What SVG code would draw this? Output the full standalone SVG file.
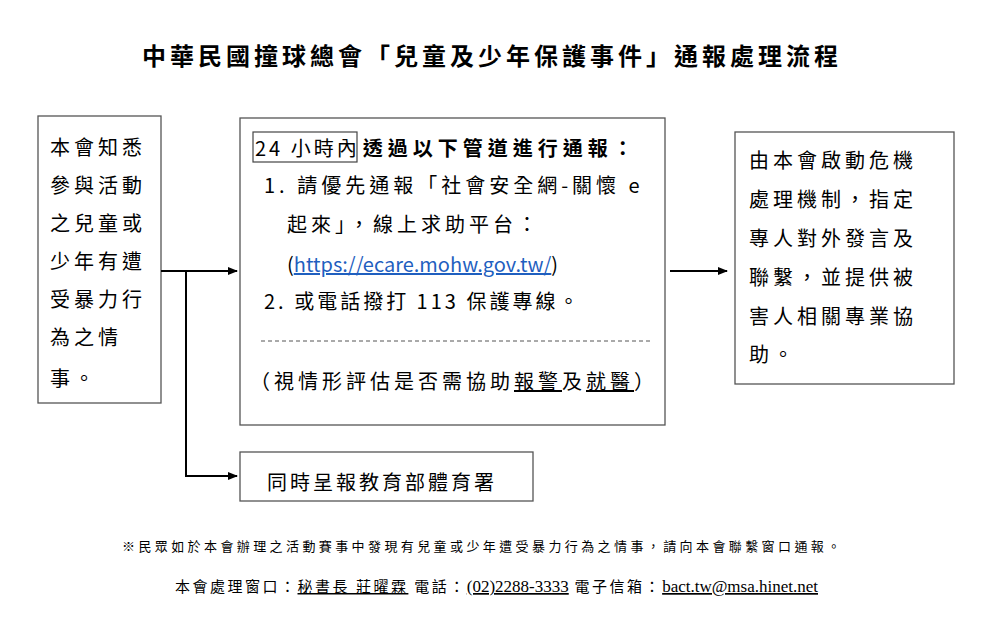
<svg xmlns="http://www.w3.org/2000/svg" width="993" height="629" viewBox="0 0 993 629">
<style>
.t{font-family:"Liberation Serif","Noto Sans CJK TC",serif;fill:#000}
.c{font-family:"Noto Sans CJK TC",sans-serif;fill:#000}
.box{fill:#fff;stroke:#555;stroke-width:1.3}
.ln{stroke:#000;stroke-width:2;fill:none}
</style>
<defs><marker id="ah" markerWidth="10" markerHeight="8" refX="9" refY="4" orient="auto" markerUnits="userSpaceOnUse"><path d="M0,0 L10,4 L0,8 Z" fill="#000"/></marker></defs>
<rect width="993" height="629" fill="#fff"/>
<text class="c" x="492" y="65" font-size="24" font-weight="bold" text-anchor="middle" letter-spacing="4">中華民國撞球總會「兒童及少年保護事件」通報處理流程</text>
<g id="left"><rect class="box" x="38" y="116" width="123" height="287"/>
<text class="c" font-size="20" letter-spacing="4"><tspan x="50" y="155">本會知悉</tspan><tspan x="50" y="193">參與活動</tspan><tspan x="50" y="231">之兒童或</tspan><tspan x="50" y="269">少年有遭</tspan><tspan x="50" y="307">受暴力行</tspan><tspan x="50" y="345">為之情</tspan><tspan x="50" y="386">事。</tspan></text></g>
<g id="middle"><rect class="box" x="240" y="118" width="425" height="307"/>
<rect x="253" y="132" width="104" height="30" fill="none" stroke="#444" stroke-width="1.2"/>
<text class="c" font-size="20" x="255" y="156" letter-spacing="3">24 小時內<tspan font-weight="bold" letter-spacing="5" dx="3">透過以下管道進行通報：</tspan></text>
<text class="c" font-size="20" x="264" y="193" letter-spacing="4">1. 請優先通報「社會安全網-關懷 e</text>
<text class="c" font-size="20" x="287" y="232" letter-spacing="4">起來」，線上求助平台：</text>
<text class="c" font-size="20" x="287" y="272">(<tspan fill="#1f5fbf" text-decoration="underline">https://ecare.mohw.gov.tw/</tspan>)</text>
<text class="c" font-size="20" x="264" y="309" letter-spacing="3">2. 或電話撥打 113 保護專線。</text>
<line x1="261" y1="341" x2="652" y2="341" stroke="#555" stroke-dasharray="4,3"/>
<text class="c" font-size="20" x="250" y="389" letter-spacing="4">（視情形評估是否需協助<tspan text-decoration="underline">報警</tspan>及<tspan text-decoration="underline">就醫</tspan>）</text></g>
<g id="right"><rect class="box" x="735" y="132" width="219" height="252"/>
<text class="c" font-size="20" letter-spacing="4"><tspan x="749" y="168">由本會啟動危機</tspan><tspan x="749" y="207">處理機制，指定</tspan><tspan x="749" y="246">專人對外發言及</tspan><tspan x="749" y="285">聯繫，並提供被</tspan><tspan x="749" y="324">害人相關專業協</tspan><tspan x="749" y="362">助。</tspan></text></g>
<g id="bottom"><rect class="box" x="240" y="452" width="293" height="49"/>
<text class="c" font-size="20" x="267" y="490" letter-spacing="3">同時呈報教育部體育署</text></g>
<g id="connectors">
<line class="ln" x1="161" y1="271" x2="237" y2="271" marker-end="url(#ah)"/>
<polyline class="ln" points="186,271 186,476 237,476" marker-end="url(#ah)"/>
<line class="ln" x1="670" y1="271" x2="727" y2="271" marker-end="url(#ah)"/>
</g>
<text class="c" font-size="13" x="122" y="551" letter-spacing="3.4">※民眾如於本會辦理之活動賽事中發現有兒童或少年遭受暴力行為之情事，請向本會聯繫窗口通報。</text>
<text class="c" font-size="15" x="175" y="592" letter-spacing="2.5">本會處理窗口：<tspan text-decoration="underline">秘書長 莊曜霖</tspan> 電話：<tspan class="t" text-decoration="underline" font-size="17" letter-spacing="0">(02)2288-3333</tspan>  電子信箱：<tspan class="t" text-decoration="underline" font-size="17" letter-spacing="0">bact.tw@msa.hinet.net</tspan></text>
</svg>
